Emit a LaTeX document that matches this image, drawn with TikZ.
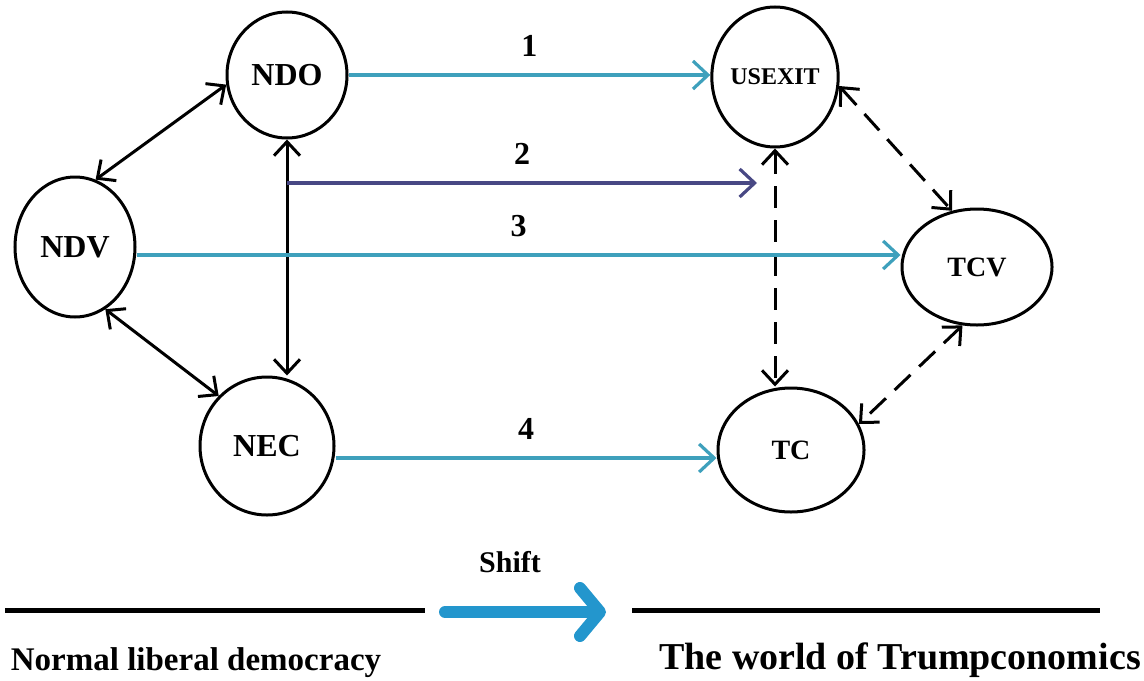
\documentclass[tikz,border=0pt]{standalone}
\usepackage{fontspec}
\setmainfont{Liberation Serif}
\usetikzlibrary{shapes.geometric,arrows.meta}
\definecolor{linkcyan}{RGB}{62,160,188}
\definecolor{linknavy}{RGB}{72,72,132}
\definecolor{shiftblue}{RGB}{35,150,205}
\begin{document}
\begin{tikzpicture}[x=0.5pt,y=-0.5pt]
	\tikzstyle{state} = [ellipse, draw, line width=1.5pt, inner sep=0pt, font=\bfseries\fontsize{16}{18}\selectfont]
	\tikzstyle{num} = [above=5pt, font=\bfseries\fontsize{16}{18}\selectfont]
	\tikzstyle{both} = [line width=1.5pt, {Straight Barb[length=7pt,width=13pt]}-{Straight Barb[length=7pt,width=13pt]}]
	\tikzstyle{link} = [line width=1.6pt, -{Straight Barb[length=7.5pt,width=14pt]}]
	\useasboundingbox (0,0) rectangle (1144,680);
	% normal liberal democracy
	\node[state,minimum width=60pt,minimum height=63pt](ndo)at (287,75){NDO};
	\node[state,minimum width=60pt,minimum height=70pt](ndv)at (75,247){NDV};
	\node[state,minimum width=67pt,minimum height=69pt](nec)at (267,446){NEC};
	% trumpconomics
	\node[state,minimum width=60pt,minimum height=70pt,font=\bfseries\fontsize{12}{14}\selectfont](usexit)at (775,77){USEXIT};
	\node[state,minimum width=75pt,minimum height=58pt,font=\bfseries\fontsize{14}{16}\selectfont](tcv)at (977,267){TCV};
	\node[state,minimum width=73pt,minimum height=62pt,font=\bfseries\fontsize{14}{16}\selectfont](tc)at (791,450){TC};
	\coordinate (fork) at (287,183);
	\coordinate (tip2) at (757,183);
	\path[both] (ndv.73) edge (ndo.189)
	(ndv.-64) edge (nec.134)
	(ndo.south) edge (ndo.south |- nec.north);
	\path[both, dash pattern=on 11pt off 6pt] (usexit.south) edge (usexit.south |- tc.north)
	(usexit.-8) edge (tcv.114)
	(tcv.-104) edge (tc.21);
	\path[link, linkcyan] (ndo.east) edge node[num, black]{1} (ndo.east -| usexit.west)
	([yshift=-4pt]ndv.east) edge node[num, black]{3} ([yshift=-4pt]ndv.east -| tcv.west)
	([yshift=-6pt]nec.east) edge node[num, black]{4} ([yshift=-6pt]nec.east -| tc.west);
	\path[link, linknavy] (fork) edge node[num, black]{2} (tip2);
	% shift line
	\coordinate (left-a) at (5,610);
	\coordinate (left-b) at (425,610);
	\coordinate (right-a) at (632,610);
	\coordinate (right-b) at (1100,610);
	\coordinate (shift-a) at (445,612);
	\coordinate (shift-b) at (606,612);
	\draw[line width=2.5pt] (left-a) -- (left-b);
	\draw[line width=2.5pt] (right-a) -- (right-b);
	\draw[shiftblue, line width=6pt, line cap=round, -{Straight Barb[length=10pt,width=24pt,round]}] (shift-a) -- (shift-b);
	\node[font=\bfseries\fontsize{15}{17}\selectfont](shift)at (510,562){Shift};
	\node[font=\bfseries\fontsize{16.5}{19}\selectfont](normal)at (196,663){Normal liberal democracy};
	\node[font=\bfseries\fontsize{19}{22}\selectfont](trump)at (900,660){The world of Trumpconomics};
\end{tikzpicture}
\end{document}
